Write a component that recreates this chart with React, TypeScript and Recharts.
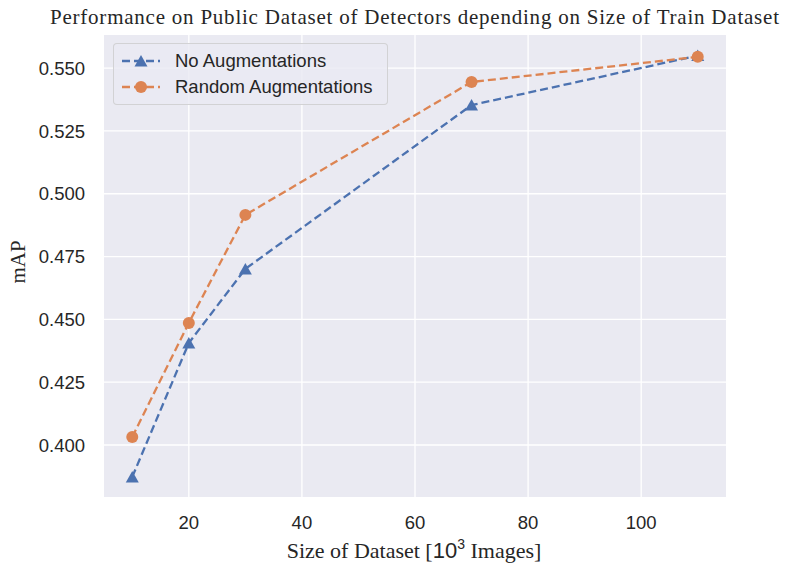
import React from "react";
import { LineChart, Line, XAxis, YAxis, CartesianGrid, Legend } from "recharts";

// Train set size in thousands of images
const datasetSizes = [10, 20, 30, 70, 110];
// mAP on the public dataset
const noAugmentations = [0.3873, 0.4406, 0.4701, 0.5353, 0.555];
const randomAugmentations = [0.4032, 0.4486, 0.4916, 0.5445, 0.5545];

const xTicks = [20, 40, 60, 80, 100];
const yTicks = [0.4, 0.425, 0.45, 0.475, 0.5, 0.525, 0.55];

const BLUE = "#4C72B0";
const ORANGE = "#DD8452";
const TEXT = "#262626";
const SERIF = "'Liberation Serif', 'DejaVu Serif', serif";
const SANS = "'Liberation Sans', Arial, sans-serif";

const chartData = datasetSizes.map((size, i) => ({
  size,
  noAug: noAugmentations[i],
  randomAug: randomAugmentations[i],
}));

const TriangleDot = (props: any) => {
  const { cx, cy, index } = props;
  if (typeof cx !== "number" || typeof cy !== "number") return null;
  return (
    <path
      key={`tri-${index}`}
      d={`M${cx},${cy - 6} L${cx - 6.5},${cy + 5.5} L${cx + 6.5},${cy + 5.5} Z`}
      fill={BLUE}
    />
  );
};

const CircleDot = (props: any) => {
  const { cx, cy, index } = props;
  if (typeof cx !== "number" || typeof cy !== "number") return null;
  return <circle key={`dot-${index}`} cx={cx} cy={cy} r={6} fill={ORANGE} />;
};

const legendRows = [
  { label: "No Augmentations", color: BLUE, marker: "triangle" },
  { label: "Random Augmentations", color: ORANGE, marker: "circle" },
];

const renderLegend = () => (
  <div
    style={{
      border: "1px solid rgba(204,204,204,0.8)",
      borderRadius: 4,
      background: "rgba(234,234,242,0.8)",
      padding: "4px 9px 4px 7px",
      fontFamily: SANS,
      fontSize: 18.5,
      color: TEXT,
      width: 257,
    }}
  >
    {legendRows.map((row) => (
      <div
        key={row.label}
        style={{ display: "flex", alignItems: "center", height: 26 }}
      >
        <svg width={40} height={16} style={{ marginRight: 14 }}>
          <line
            x1={1}
            y1={8}
            x2={39}
            y2={8}
            stroke={row.color}
            strokeWidth={2.3}
            strokeDasharray="8 4"
          />
          {row.marker === "triangle" ? (
            <path d="M20,2 L13.5,13.5 L26.5,13.5 Z" fill={row.color} />
          ) : (
            <circle cx={20} cy={8} r={6} fill={row.color} />
          )}
        </svg>
        <span>{row.label}</span>
      </div>
    ))}
  </div>
);

export default function App() {
  return (
    <div
      style={{
        position: "absolute",
        left: 0,
        top: 0,
        width: 785,
        height: 567,
        background: "#fff",
      }}
    >
      <svg
        width={785}
        height={34}
        style={{ position: "absolute", left: 0, top: 0 }}
      >
        <text
          x={50}
          y={24}
          textLength={729}
          lengthAdjust="spacing"
          fill={TEXT}
          fontFamily={SERIF}
          fontSize={21}
        >
          Performance on Public Dataset of Detectors depending on Size of Train Dataset
        </text>
      </svg>
      <LineChart
        width={785}
        height={567}
        data={chartData}
        margin={{ top: 35, right: 59, bottom: 0, left: 0 }}
        style={{ position: "absolute", left: 0, top: 0 }}
      >
        <CartesianGrid
          fill="#EAEAF2"
          stroke="#ffffff"
          strokeWidth={1.3}
          horizontalValues={yTicks}
          verticalValues={xTicks}
        />
        <XAxis
          dataKey="size"
          type="number"
          domain={[5, 115]}
          ticks={xTicks}
          axisLine={false}
          tickLine={false}
          tickSize={0}
          tickMargin={19}
          height={70}
          tick={{ fill: TEXT, fontSize: 18.5, fontFamily: SANS }}
          label={() => (
            <text
              x={414}
              y={558}
              textAnchor="middle"
              fill={TEXT}
              fontFamily={SERIF}
              fontSize={22}
            >
              Size of Dataset [
              <tspan fontFamily={SANS}>10</tspan>
              <tspan fontFamily={SANS} fontSize={14} dy={-9}>
                3
              </tspan>
              <tspan dy={9}> Images]</tspan>
            </text>
          )}
        />
        <YAxis
          type="number"
          domain={[0.3793, 0.5632]}
          ticks={yTicks}
          allowDataOverflow
          axisLine={false}
          tickLine={false}
          tickSize={0}
          tickMargin={19}
          width={104}
          tickFormatter={(v: number) => v.toFixed(3)}
          tick={{ fill: TEXT, fontSize: 18.5, fontFamily: SANS }}
          label={() => (
            <text
              x={25}
              y={262}
              textAnchor="middle"
              transform="rotate(-90, 25, 262)"
              fill={TEXT}
              fontFamily={SERIF}
              fontSize={21}
            >
              mAP
            </text>
          )}
        />
        <Legend
          layout="vertical"
          align="center"
          verticalAlign="middle"
          content={renderLegend}
          wrapperStyle={{ left: 113, top: 43, width: "auto", height: "auto" }}
        />
        <Line
          type="linear"
          dataKey="noAug"
          name="No Augmentations"
          stroke={BLUE}
          strokeWidth={2.3}
          strokeDasharray="8 4"
          dot={TriangleDot}
          activeDot={false}
          isAnimationActive={false}
        />
        <Line
          type="linear"
          dataKey="randomAug"
          name="Random Augmentations"
          stroke={ORANGE}
          strokeWidth={2.3}
          strokeDasharray="8 4"
          dot={CircleDot}
          activeDot={false}
          isAnimationActive={false}
        />
      </LineChart>
    </div>
  );
}
